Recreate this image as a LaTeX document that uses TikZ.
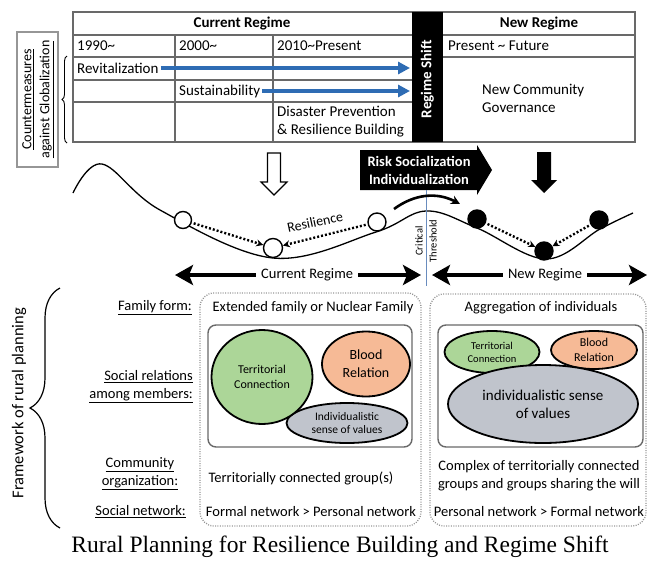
\documentclass[tikz,border=0pt]{standalone}
\usepackage{fontspec}
\setmainfont{Carlito}
\newfontfamily\captionfont{Liberation Serif}
\usetikzlibrary{arrows.meta,decorations.pathreplacing,shapes.geometric}

\definecolor{linegray}{RGB}{105,105,105}
\definecolor{dotgray}{RGB}{150,150,150}
\definecolor{shiftblue}{RGB}{46,108,180}
\definecolor{terrgreen}{RGB}{172,214,152}
\definecolor{bloodpink}{RGB}{246,186,150}
\definecolor{valuegray}{RGB}{192,196,204}
\definecolor{threshblue}{RGB}{105,140,190}

\newcommand{\fsz}[2]{\fontsize{#1}{#2}\selectfont}

\tikzset{
  tabtext/.style={anchor=west,inner sep=0pt,align=left,font=\fsz{15}{17.5}},
  rowlabel/.style={anchor=east,inner sep=0pt,align=right,font=\fsz{14.5}{18}},
  boxtext/.style={inner sep=0pt,align=center,font=\fsz{14.5}{18}},
  blob/.style={ellipse,draw=black,line width=1.8pt,inner sep=0pt,align=center},
  marble/.style={circle,draw=black,line width=1.4pt,minimum size=18pt,inner sep=0pt},
  dotarrow/.style={line width=2.4pt,dash pattern=on 2pt off 2pt,shorten <=2pt,-{Stealth[length=7pt,width=7pt]}},
  regarrow/.style={line width=4.5pt,{Stealth[length=18pt,width=20pt,inset=4pt]}-{Stealth[length=18pt,width=20pt,inset=4pt]}},
  bluearrow/.style={shiftblue,line width=4.5pt,shorten <=2pt,-{Triangle[length=12pt,width=12pt]}},
  framebox/.style={dotgray,line width=1.3pt,dash pattern=on 1pt off 1.4pt,rounded corners=14pt},
  innerbox/.style={draw=linegray,line width=1.4pt,rounded corners=8pt},
}

\begin{document}
\begin{tikzpicture}[x=1pt,y=-1pt]
\useasboundingbox (0,0) rectangle (648,560);

% table of the two regimes
\draw[linegray,line width=1.2pt] (73,12) rectangle (635,142);
\draw[linegray,line width=1.2pt] (73,35) -- (635,35) (73,57) -- (635,57)
  (73,80) -- (412,80) (73,102) -- (412,102)
  (175,35) -- (175,142) (273,35) -- (273,142);
\fill (412,12) rectangle (443,142);
\coordinate (shiftL) at (410,0);
\node[font=\bfseries\fsz{15}{18}] (curH) at (242,24) {Current Regime};
\node[font=\bfseries\fsz{15}{18}] (newH) at (539,24) {New Regime};
\node[tabtext] (y1990) at (77,46) {1990\textasciitilde};
\node[tabtext] (y2000) at (179,46) {2000\textasciitilde};
\node[tabtext] (y2010) at (277,46) {2010\textasciitilde Present};
\node[tabtext] (future) at (448,46) {Present \textasciitilde\ Future};
\node[tabtext] (revit) at (77,68) {Revitalization};
\node[tabtext] (sustain) at (179,91) {Sustainability};
\node[tabtext] (disaster) at (277,121.5) {Disaster Prevention\\\& Resilience Building};
\node[tabtext,font=\fsz{15}{18}] (govern) at (482,98) {New Community\\Governance};
\node[rotate=90,text=white,font=\bfseries\fsz{15}{18}] (shift) at (427.5,79) {Regime Shift};
\draw[bluearrow] (revit.east) -- (revit.east -| shiftL);
\draw[bluearrow] (sustain.east) -- (sustain.east -| shiftL);

% label of the table
\draw[dotgray,line width=1.4pt] (17,32) rectangle (58,167);
\node[rotate=90,align=center,font=\fsz{14}{18}] (glob) at (38,99.5)
  {\underline{Countermeasures}\\\underline{against Globalization}};
\draw[line width=0.9pt,decorate,decoration={brace,amplitude=5pt}] (67,143) -- (67,56);

% down arrows
\draw[line width=1.2pt,fill=white] (267.5,153) -- (280.5,153) -- (280.5,182) -- (287,182)
  -- (274,195) -- (261,182) -- (267.5,182) -- cycle;
\fill (537,152) -- (551,152) -- (551,180) -- (557,180) -- (544,193) -- (531,180) -- (537,180) -- cycle;

% risk arrow
\fill (360,150) -- (477,150) -- (477,145) -- (492,170) -- (477,195) -- (477,190) -- (360,190) -- cycle;
\node[text=white,align=center,font=\bfseries\fsz{14.5}{18}] (risk) at (419,170)
  {Risk Socialization\\Individualization};

% landscape
\draw[line width=1.3pt] plot[smooth,tension=0.6] coordinates {(73,193) (102,164) (160,210)
  (273,258) (376,232) (426,211) (477,228) (546,259) (600,229) (633,213)};
\draw[threshblue,line width=0.9pt] (426,190) -- (426,286);
\node[rotate=90,align=center,font=\fsz{10.5}{14}] (crit) at (426,241) {Critical\\Threshold};
\draw[line width=2.6pt,-{Stealth[length=9pt,width=9pt]}] (394,209) to[bend left=32] (460,204);

\node[marble,fill=white,minimum size=17pt] (c1) at (183,220) {};
\node[marble,fill=white,minimum size=19pt] (c2) at (273,248) {};
\node[marble,fill=white] (c3) at (377,222) {};
\node[marble,fill=black] (n1) at (477,219) {};
\node[marble,fill=black] (n2) at (544,251) {};
\node[marble,fill=black] (n3) at (599,220) {};
\draw[dotarrow] (c1) -- (c2);
\draw[dotarrow] (c3) -- (c2);
\draw[dotarrow] (n1) -- (n2);
\draw[dotarrow] (n3) -- (n2);
\node[rotate=12,font=\fsz{14}{16}] (resil) at (315,222) {Resilience};

\draw[regarrow] (175,275) -- (421,275)
  node[pos=0.537,fill=white,inner sep=5pt,font=\fsz{14.5}{17}] (curR) {Current Regime};
\draw[regarrow] (432,275) -- (647,275)
  node[pos=0.526,fill=white,inner sep=5pt,font=\fsz{14.5}{17}] (newR) {New Regime};

% framework of rural planning
\draw[line width=1.2pt,decorate,decoration={brace,amplitude=30pt,aspect=0.5}] (60,528) -- (60,288);
\node[rotate=90,font=\fsz{16.5}{20}] (frame) at (19,403) {Framework of rural planning};
\node[rowlabel] (famL) at (192,308) {\underline{Family form:}};
\node[rowlabel] (relL) at (193,387) {\underline{Social relations}\\\underline{among members:}};
\node[boxtext] (comL) at (140,473.5) {\underline{Community}\\\underline{organization:}};
\node[rowlabel] (netL) at (186,512) {\underline{Social network:}};

% current regime column
\draw[framebox] (200,293) rectangle (421,526);
\node[boxtext] (famC) at (313,308) {Extended family or Nuclear Family};
\draw[innerbox] (208,325) rectangle (412,447);
\node[blob,fill=valuegray,minimum width=121pt,minimum height=40pt,font=\fsz{11.5}{13}] (valC) at (347,423) {Individualistic\\sense of values};
\node[blob,fill=terrgreen,minimum width=101pt,minimum height=94pt,font=\fsz{12}{15}] (terrC) at (262,377) {Territorial\\Connection};
\node[blob,fill=bloodpink,minimum width=88pt,minimum height=65pt,font=\fsz{14}{18}] (bloodC) at (366,364) {Blood\\Relation};
\node[boxtext] (comC) at (301,478) {Territorially connected group(s)};
\node[boxtext] (netC) at (311,512) {Formal network > Personal network};

% new regime column
\draw[framebox] (430,294) rectangle (646,526);
\node[boxtext] (famN) at (541,308) {Aggregation of individuals};
\draw[innerbox] (438,325) rectangle (643,447);
\node[blob,fill=terrgreen,minimum width=95pt,minimum height=42pt,font=\fsz{10.5}{13}] (terrN) at (492,352) {Territorial\\Connection};
\node[blob,fill=bloodpink,minimum width=86pt,minimum height=38pt,font=\fsz{12}{15}] (bloodN) at (594,350) {Blood\\Relation};
\node[blob,fill=valuegray,minimum width=190pt,minimum height=78pt,font=\fsz{15}{18}] (valN) at (543,404) {individualistic sense\\of values};
\node[boxtext] (comN) at (539,476) {Complex of territorially connected\\groups and groups sharing the will};
\node[boxtext] (netN) at (539,512) {Personal network > Formal network};

\node[font=\captionfont\fsz{23.5}{27}] (caption) at (340,547) {Rural Planning for Resilience Building and Regime Shift};
\end{tikzpicture}
\end{document}
